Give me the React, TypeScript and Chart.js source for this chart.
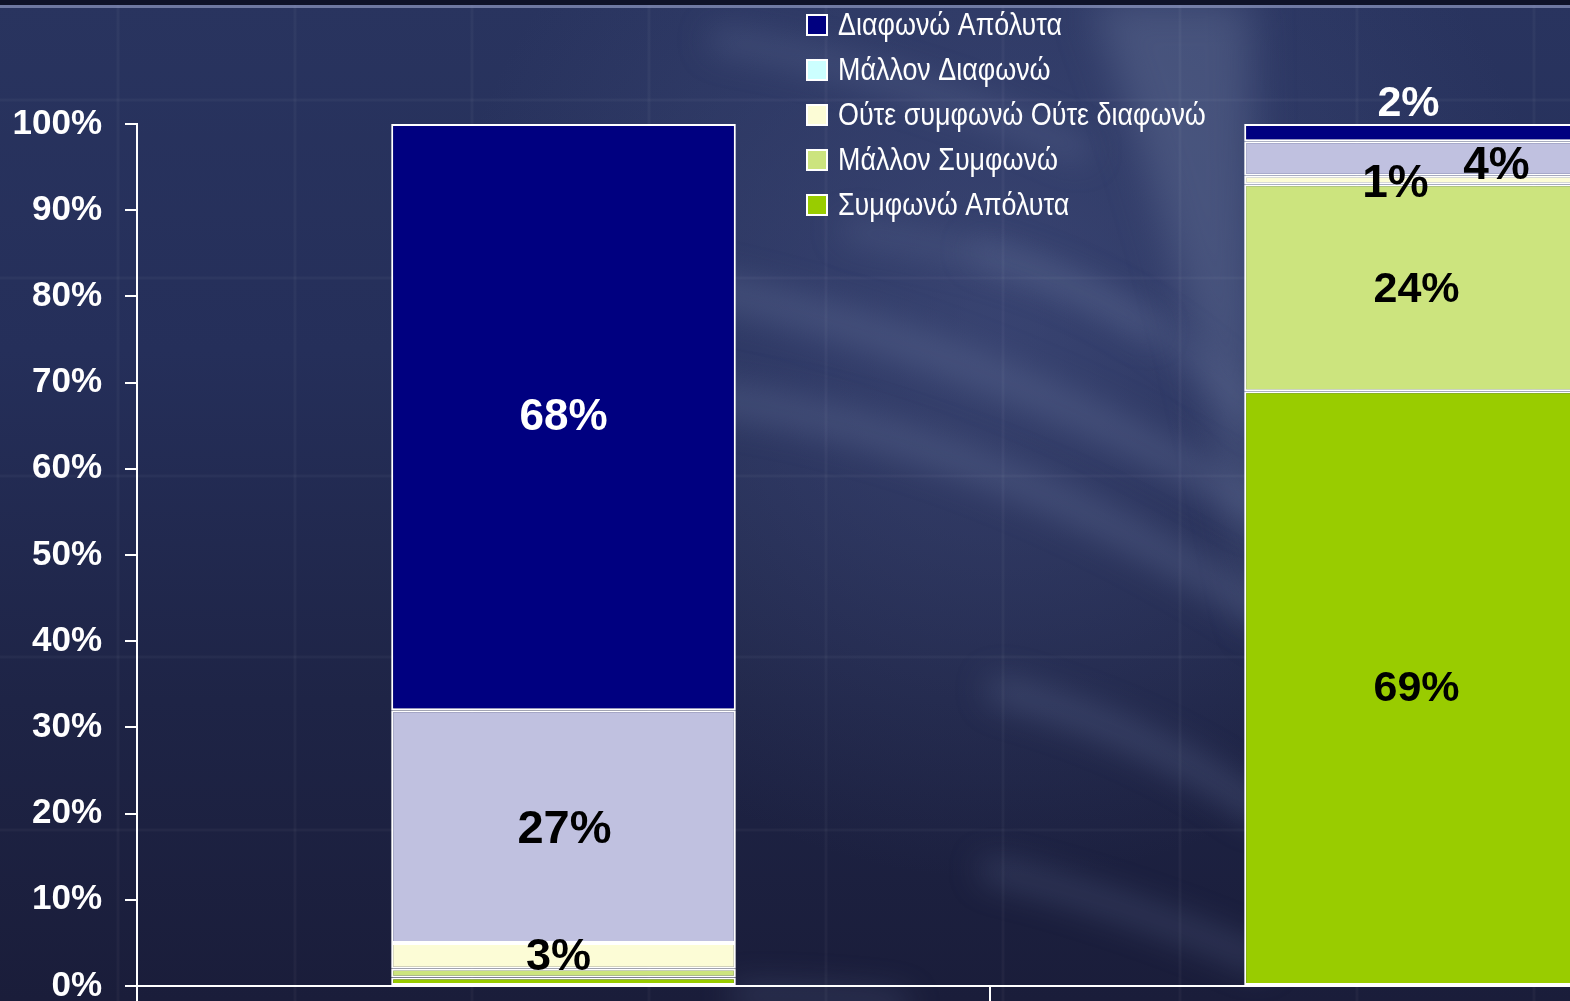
import { useEffect, useRef } from "react";
import { Chart, registerables } from "chart.js";

Chart.register(...registerables);

// ---- data ----
const categories = ["", ""];
const seriesLabels = [
  "Συμφωνώ Απόλυτα",
  "Μάλλον Συμφωνώ",
  "Ούτε συμφωνώ Ούτε διαφωνώ",
  "Μάλλον Διαφωνώ",
  "Διαφωνώ Απόλυτα",
];
const agreeFully = [1, 69];
const agreeSomewhat = [1, 24];
const neutral = [3, 1];
const disagreeSomewhat = [27, 4];
const disagreeFully = [68, 2];
const yTickValues = [0, 10, 20, 30, 40, 50, 60, 70, 80, 90, 100];

// ---- styles ----
const barColors = ["#99CC00", "#CCE47E", "#FCFCD6", "#C0C1E0", "#000080"];
const legendColors = ["#99CC00", "#CCE47E", "#FCFCD6", "#CCFFFF", "#000080"];

// labels: dataset index, category index, offset, colour, size
const labelSpec = [
  { ds: 4, i: 0, dx: 0, dy: 1, color: "#FFFFFF", size: 44 },
  { ds: 3, i: 0, dx: 1, dy: 4, color: "#000000", size: 47 },
  { ds: 2, i: 0, dx: -5, dy: 2, color: "#000000", size: 45 },
  { ds: 0, i: 1, dx: 0, dy: 1, color: "#000000", size: 43 },
  { ds: 1, i: 1, dx: 0, dy: 2, color: "#000000", size: 43 },
  { ds: 2, i: 1, dx: -21, dy: 4, color: "#000000", size: 46 },
  { ds: 3, i: 1, dx: 80, dy: 8, color: "#000000", size: 46 },
  { ds: 4, i: 1, dx: -8, dy: -28, color: "#FFFFFF", size: 43 },
];

const background = {
  id: "bgPaint",
  beforeDraw(chart: any) {
    const { ctx, width, height } = chart;
    ctx.save();
    const g = ctx.createLinearGradient(0, 0, 0, height);
    g.addColorStop(0, "#29345f");
    g.addColorStop(0.35, "#252f5a");
    g.addColorStop(0.7, "#1e2446");
    g.addColorStop(1, "#1a1d3a");
    ctx.fillStyle = g;
    ctx.fillRect(0, 0, width, height);

    const r = ctx.createRadialGradient(1000, 320, 20, 1000, 320, 560);
    r.addColorStop(0, "rgba(78,90,138,0.45)");
    r.addColorStop(1, "rgba(78,90,138,0)");
    ctx.fillStyle = r;
    ctx.fillRect(0, 0, width, height);

    // big pale leaf at upper right
    ctx.filter = "blur(20px)";
    ctx.fillStyle = "rgba(100,112,150,0.45)";
    ctx.beginPath();
    ctx.moveTo(1090, 0);
    ctx.lineTo(1250, 0);
    ctx.lineTo(1260, 650);
    ctx.quadraticCurveTo(1200, 300, 1090, 0);
    ctx.fill();

    // soft streaks
    ctx.filter = "blur(16px)";
    ctx.strokeStyle = "rgba(100,112,152,0.38)";
    ctx.lineCap = "round";
    const streaks = [
      [[690, 285], [1000, 350], [1260, 510], 34],
      [[690, 395], [980, 430], [1260, 610], 32],
      [[850, 230], [1050, 260], [1150, 330], 18],
      [[980, 250], [1150, 300], [1260, 420], 18],
      [[1000, 690], [1150, 730], [1260, 810], 26],
      [[720, 40], [900, 70], [1080, 150], 22],
      [[990, 870], [1120, 900], [1260, 960], 20],
      [[740, 995], [820, 995], [900, 1005], 18],
    ];
    for (const [a, c, b, w] of streaks as any) {
      ctx.lineWidth = w;
      ctx.beginPath();
      ctx.moveTo(a[0], a[1]);
      ctx.quadraticCurveTo(c[0], c[1], b[0], b[1]);
      ctx.stroke();
    }
    ctx.filter = "none";

    // faint background grid
    ctx.strokeStyle = "rgba(255,255,255,0.035)";
    ctx.lineWidth = 3;
    for (let x = 118; x < width; x += 177) {
      ctx.beginPath();
      ctx.moveTo(x, 6);
      ctx.lineTo(x, height);
      ctx.stroke();
    }
    for (const y of [100, 278, 476, 657, 830]) {
      ctx.beginPath();
      ctx.moveTo(0, y);
      ctx.lineTo(width, y);
      ctx.stroke();
    }

    // top strip
    ctx.fillStyle = "#0f1329";
    ctx.fillRect(0, 0, width, 5);
    ctx.fillStyle = "rgba(140,150,190,0.7)";
    ctx.fillRect(0, 5, width, 3);
    ctx.restore();
  },
};

const labelsPlugin = {
  id: "segLabels",
  afterDatasetsDraw(chart: any) {
    const { ctx } = chart;
    ctx.save();
    ctx.textAlign = "center";
    ctx.textBaseline = "middle";
    for (const s of labelSpec) {
      const meta = chart.getDatasetMeta(s.ds);
      const el = meta.data[s.i];
      if (!el) continue;
      const v = chart.data.datasets[s.ds].data[s.i];
      const x = el.x + s.dx;
      const y = (el.y + el.base) / 2 + s.dy;
      ctx.font = `bold ${s.size}px 'Liberation Sans', Arial, sans-serif`;
      ctx.fillStyle = s.color;
      ctx.fillText(`${v}%`, x, y);
    }
    ctx.restore();
  },
};

const legendPlugin = {
  id: "customLegend",
  afterDraw(chart: any) {
    const { ctx } = chart;
    ctx.save();
    ctx.font = "31px 'Liberation Sans Narrow', 'Liberation Sans', Arial, sans-serif";
    ctx.textBaseline = "middle";
    ctx.textAlign = "left";
    const first = seriesLabels[seriesLabels.length - 1];
    const scaleX = 224 / ctx.measureText(first).width;
    const x0 = 806;
    const y0 = 25;
    const step = 45;
    for (let k = 0; k < seriesLabels.length; k++) {
      const idx = seriesLabels.length - 1 - k;
      const y = y0 + k * step;
      ctx.fillStyle = legendColors[idx];
      ctx.fillRect(x0 + 1, y - 10, 20, 20);
      ctx.strokeStyle = "#FFFFFF";
      ctx.lineWidth = 2;
      ctx.strokeRect(x0 + 1, y - 10, 20, 20);
      ctx.save();
      ctx.translate(x0 + 32, y + 1);
      ctx.scale(scaleX, 1);
      ctx.fillStyle = "#FFFFFF";
      ctx.fillText(seriesLabels[idx], 0, 0);
      ctx.restore();
    }
    ctx.restore();
  },
};

export default function App() {
  const ref = useRef<HTMLCanvasElement | null>(null);

  useEffect(() => {
    if (!ref.current) return;
    const series = [agreeFully, agreeSomewhat, neutral, disagreeSomewhat, disagreeFully];
    const chart = new Chart(ref.current, {
      type: "bar",
      data: {
        labels: categories,
        datasets: series.map((d, k) => ({
          label: seriesLabels[k],
          data: d,
          backgroundColor: barColors[k],
          borderColor: "#FFFFFF",
          borderWidth: 2,
          borderSkipped: false,
          barPercentage: 0.404,
          categoryPercentage: 1,
        })),
      },
      options: {
        animation: false,
        responsive: false,
        devicePixelRatio: 1,
        layout: { padding: { top: 124, left: 0, right: 0, bottom: 0 } },
        plugins: {
          legend: { display: false },
          tooltip: { enabled: false },
        },
        scales: {
          x: {
            stacked: true,
            offset: true,
            ticks: { display: false },
            grid: {
              display: true,
              offset: true,
              drawOnChartArea: false,
              drawTicks: true,
              tickLength: 20,
              color: "#FFFFFF",
              lineWidth: 2,
            },
            border: { display: true, color: "#FFFFFF", width: 2 },
            afterFit(scale: any) {
              scale.height = 15;
              scale.paddingLeft = 0;
              scale.paddingRight = 0;
            },
          },
          y: {
            stacked: true,
            min: 0,
            max: 100,
            afterBuildTicks(scale: any) {
              scale.ticks = yTickValues.map((v) => ({ value: v }));
            },
            ticks: {
              color: "#FFFFFF",
              padding: 23,
              font: { family: "'Liberation Sans', Arial, sans-serif", size: 35, weight: "bold" },
              callback: (v: any) => `${v}%`,
            },
            grid: {
              display: true,
              drawOnChartArea: false,
              drawTicks: true,
              tickLength: 12,
              color: "#FFFFFF",
              lineWidth: 2,
            },
            border: { display: true, color: "#FFFFFF", width: 2 },
            afterFit(scale: any) {
              scale.width = 137;
              scale.paddingTop = 0;
              scale.paddingBottom = 0;
            },
          },
        },
      },
      plugins: [background, labelsPlugin, legendPlugin],
    } as any);
    return () => chart.destroy();
  }, []);

  return (
    <div
      style={{
        position: "fixed",
        left: 0,
        top: 0,
        width: "100vw",
        height: "100vh",
        overflow: "hidden",
        background: "#1e2448",
      }}
    >
      <canvas
        ref={ref}
        width={1843}
        height={1001}
        style={{ position: "absolute", left: 0, top: 0, width: 1843, height: 1001, display: "block" }}
      />
    </div>
  );
}
